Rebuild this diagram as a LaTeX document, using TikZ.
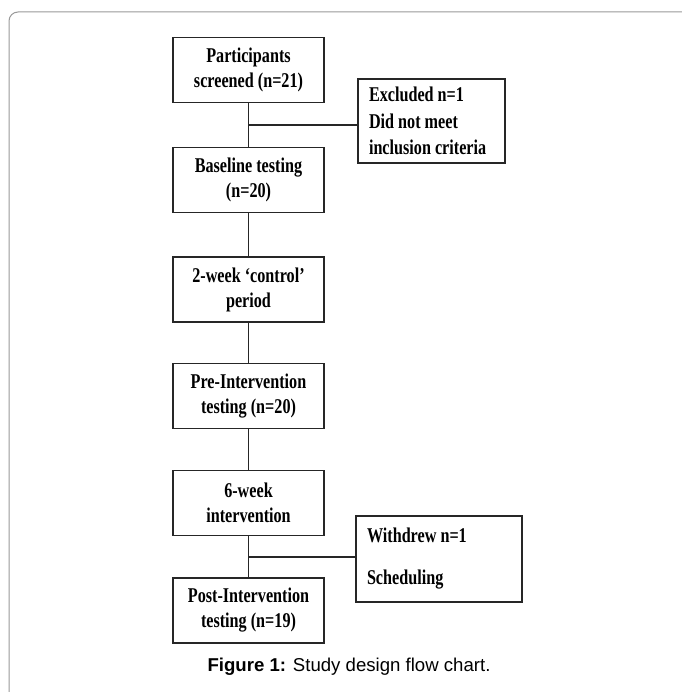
\documentclass[tikz,border=0pt]{standalone}
\usepackage{fontspec}
\setmainfont{Liberation Serif}[FakeStretch=0.77]
\newfontfamily\capfont{Liberation Sans}
\begin{document}
\begin{tikzpicture}[x=1pt,y=-1pt,
  box/.style={draw=black!85, line width=1.3pt, minimum width=151pt, minimum height=65pt,
    inner sep=2pt, align=center, font=\fontsize{21}{25}\selectfont\bfseries},
  side/.style={draw=black!85, line width=1.3pt, inner xsep=11pt, inner ysep=0pt, align=flush left,
    font=\fontsize{21}{26.5}\selectfont\bfseries},
  link/.style={draw=black!85, line width=1.3pt},
  frame/.style={draw=black!40, line width=1pt, rounded corners=9pt}]
\useasboundingbox (0,0) rectangle (681,692);
\fill[white] (0,0) rectangle (681,692);
\draw[frame] (9,720) -- (9,12) -- (720,12);

\node[box] (b1) at (248.5,70) {Participants\\screened (n=21)};
\node[box] (b2) at (248.5,180) {Baseline testing\\(n=20)};
\node[box] (b3) at (248.5,289.5) {2-week ‘control’\\period};
\node[box] (b4) at (248.5,396) {Pre-Intervention\\testing (n=20)};
\node[box] (b5) at (248.5,503) {6-week\\intervention};
\node[box] (b6) at (248.5,610.5) {Post-Intervention\\testing (n=19)};

\node[side, minimum width=147pt, minimum height=84pt, text width=125pt] (ex) at (431.5,121)
  {Excluded n=1\\Did not meet\\inclusion criteria};
\node[side, minimum width=166pt, minimum height=86pt, text width=144pt] (wd) at (439,559)
  {Withdrew n=1\\[15.5pt]Scheduling};

\coordinate (j1) at (248.5,125);
\coordinate (j2) at (248.5,557);

\draw[link] (b1) -- (b2);
\draw[link] (j1) -- (ex.west |- j1);
\draw[link] (b2) -- (b3);
\draw[link] (b3) -- (b4);
\draw[link] (b4) -- (b5);
\draw[link] (b5) -- (b6);
\draw[link] (j2) -- (wd.west |- j2);

\node[font=\capfont\fontsize{18.6}{21}\selectfont] (cap) at (349,667)
  {\textbf{Figure 1:} Study design flow chart.};
\end{tikzpicture}
\end{document}
